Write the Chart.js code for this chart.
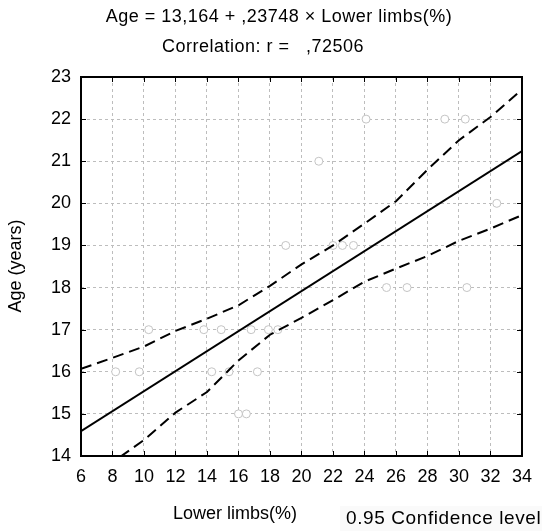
<!DOCTYPE html>
<html>
<head>
<meta charset="utf-8">
<script src="https://cdn.jsdelivr.net/npm/chart.js@4/dist/chart.umd.min.js"></script>
<style>
  body { margin: 0; background: #fff; }
  #wrap { width: 542px; height: 531px; }
</style>
</head>
<body>
<div id="wrap"><canvas id="myChart" width="542" height="531"></canvas></div>
<script>
// observed points (Lower limbs %, Age)
var limbs = [19, 24.1, 29.1, 30.4, 21.1, 32.4, 22, 22.6, 23.3, 10.3, 13.8, 14.9, 16.8, 17.9, 18.5,
             8.2, 9.7, 14.3, 15.4, 17.2, 16, 16.5, 25.4, 26.7, 30.5];
var ages = [19, 22, 22, 22, 21, 20, 19, 19, 19, 17, 17, 17, 17, 17, 17,
            16, 16, 16, 16, 16, 15, 15, 18, 18, 18];

// regression line end points
var fitX = [6, 34];
var fitY = [14.59, 21.24];

// 0.95 confidence band
var bandX = [6, 8, 10, 12, 14, 16, 18, 20, 22, 24, 26, 28, 30, 32, 34];
var upper = [16.07, 16.33, 16.6, 16.97, 17.26, 17.58, 18.04, 18.55, 19.0, 19.52, 20.05, 20.8, 21.5, 22.05, 22.7];
var lower = [13.2, 13.85, 14.38, 15.03, 15.52, 16.27, 16.88, 17.28, 17.7, 18.14, 18.45, 18.75, 19.11, 19.4, 19.72];

var xTicks = [6, 8, 10, 12, 14, 16, 18, 20, 22, 24, 26, 28, 30, 32, 34];
var yTicks = [14, 15, 16, 17, 18, 19, 20, 21, 22, 23];

var titleLine1 = 'Age = 13,164 + ,23748 \u00d7 Lower limbs(%)';
var titleLine2 = 'Correlation: r =   ,72506';
var xTitle = 'Lower limbs(%)';
var yTitle = 'Age (years)';
var confText = '0.95 Confidence level';

function pairs(xs, ys) {
  return xs.map(function (x, i) { return { x: x, y: ys[i] }; });
}

var FONT = '"Liberation Sans", Arial, sans-serif';

var decor = {
  id: 'decor',
  afterDraw: function (chart) {
    var c = chart.ctx, a = chart.chartArea;
    var xs = chart.scales.x, ys = chart.scales.y;
    c.save();
    c.strokeStyle = '#000';
    c.lineWidth = 1;
    // inward tick marks
    xTicks.forEach(function (v) {
      var px = Math.round(xs.getPixelForValue(v)) + 0.5;
      c.beginPath();
      c.moveTo(px, a.bottom); c.lineTo(px, a.bottom - 5);
      c.moveTo(px, a.top); c.lineTo(px, a.top + 5);
      c.stroke();
    });
    yTicks.forEach(function (v) {
      var py = Math.round(ys.getPixelForValue(v)) + 0.5;
      c.beginPath();
      c.moveTo(a.left, py); c.lineTo(a.left + 5, py);
      c.moveTo(a.right, py); c.lineTo(a.right - 5, py);
      c.stroke();
    });
    // frame
    c.lineWidth = 2;
    c.strokeRect(a.left, a.top, a.right - a.left, a.bottom - a.top);

    // texts
    c.fillStyle = '#000';
    c.font = '18px ' + FONT;
    c.textBaseline = 'middle';
    c.textAlign = 'center';
    c.letterSpacing = '0.5px';
    c.fillText(titleLine1, 279, 17);
    c.fillText(titleLine2, 263, 47);
    c.letterSpacing = '0px';
    c.fillText(xTitle, 235, 514);
    // faint legend box
    c.fillStyle = '#fafafa';
    c.fillRect(340, 506, 202, 25);
    c.fillStyle = '#000';
    c.textAlign = 'left';
    c.font = '19px ' + FONT;
    c.letterSpacing = '0.6px';
    c.fillText(confText, 346, 519);
    c.letterSpacing = '0px';
    c.font = '18px ' + FONT;
    c.translate(16, 266);
    c.rotate(-Math.PI / 2);
    c.textAlign = 'center';
    c.fillText(yTitle, 0, 0);
    c.restore();
  }
};

var ctx = document.getElementById('myChart').getContext('2d');
var myChart = new Chart(ctx, {
  type: 'scatter',
  data: {
    datasets: [{
      label: 'fit',
      data: pairs(fitX, fitY),
      showLine: true,
      borderColor: '#000',
      borderWidth: 2,
      pointRadius: 0,
      order: 1
    }, {
      label: 'upper',
      data: pairs(bandX, upper),
      showLine: true,
      borderColor: '#000',
      borderWidth: 2,
      borderDash: [11, 6],
      pointRadius: 0,
      order: 1
    }, {
      label: 'lower',
      data: pairs(bandX, lower),
      showLine: true,
      borderColor: '#000',
      borderWidth: 2,
      borderDash: [11, 6],
      pointRadius: 0,
      order: 1
    }, {
      label: 'observed',
      data: pairs(limbs, ages),
      pointRadius: 4,
      pointBorderWidth: 1,
      pointBorderColor: '#c4c4c4',
      pointBackgroundColor: '#fff',
      order: 2
    }]
  },
  options: {
    responsive: false,
    animation: false,
    layout: { padding: { top: 77, right: 20, left: 0, bottom: 0 } },
    plugins: {
      legend: { display: false },
      tooltip: { enabled: false }
    },
    scales: {
      x: {
        type: 'linear',
        min: 6, max: 34,
        afterBuildTicks: function (s) { s.ticks = xTicks.map(function (v) { return { value: v }; }); },
        afterFit: function (s) { s.height = 75; },
        border: { display: false, dash: [3, 3] },
        grid: { color: '#bdbdbd', drawTicks: false, lineWidth: 1 },
        ticks: { color: '#000', padding: 10, maxRotation: 0, autoSkip: false, font: { size: 18, family: FONT } }
      },
      y: {
        type: 'linear',
        min: 14, max: 23,
        afterBuildTicks: function (s) { s.ticks = yTicks.map(function (v) { return { value: v }; }); },
        afterFit: function (s) { s.width = 81; },
        border: { display: false, dash: [3, 3] },
        grid: { color: '#bdbdbd', drawTicks: false, lineWidth: 1 },
        ticks: { color: '#000', padding: 10, font: { size: 18, family: FONT } }
      }
    }
  },
  plugins: [decor]
});
</script>
</body>
</html>
